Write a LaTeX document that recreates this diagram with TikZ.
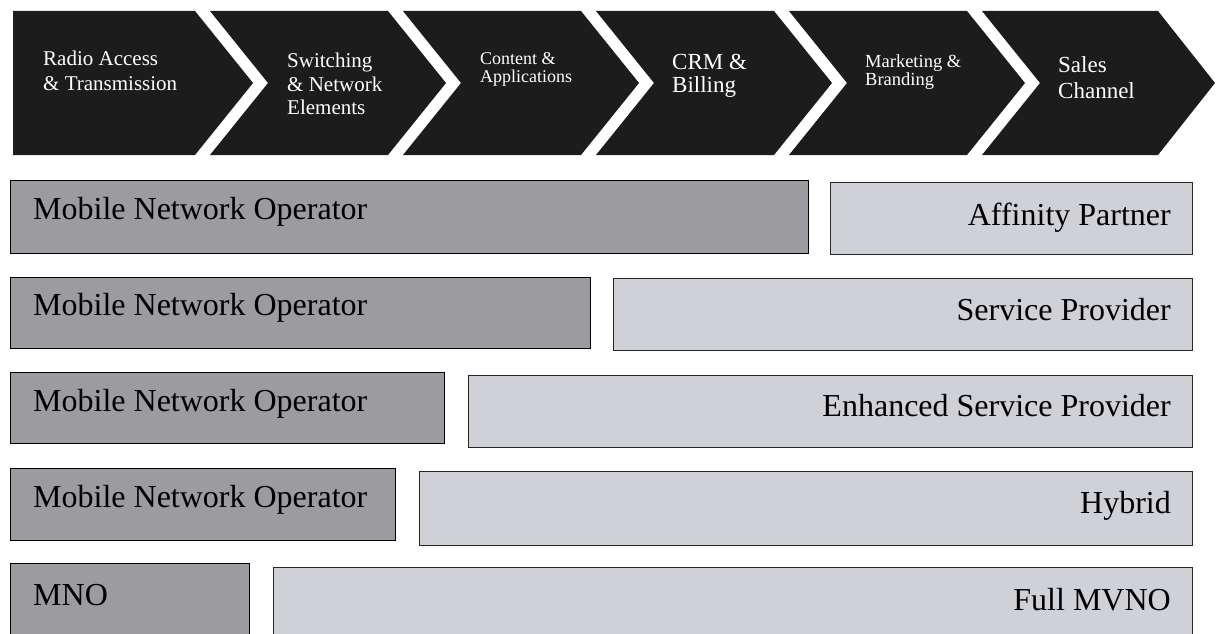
\documentclass[tikz,border=0pt]{standalone}
\usepackage{fontspec}
\setmainfont{Liberation Serif}
\definecolor{chevfill}{RGB}{28,28,28}
\definecolor{opgray}{RGB}{155,155,160}
\definecolor{vngray}{RGB}{208,209,214}

\tikzset{
  stagebox/.style={fill=chevfill},
  stagetext/.style={text=white, align=left, anchor=north west, inner sep=0pt},
  opbar/.style={fill=opgray, draw=black, line width=1pt},
  vnbar/.style={fill=vngray, draw=black!85, line width=1pt},
  optext/.style={anchor=base west, inner sep=0pt, font=\fontsize{32}{34}\selectfont},
  vntext/.style={anchor=base east, inner sep=0pt, font=\fontsize{32}{34}\selectfont}
}

\begin{document}
\begin{tikzpicture}[x=1pt, y=-1pt]
        \clip (0,0) rectangle (1216,634);
        \fill[white] (0,0) rectangle (1216,634);

        % value chain
        \fill[stagebox] (13,11) -- (195,11) -- (253,83) -- (195,155) -- (13,155) -- cycle;
        \fill[stagebox] (210,11) -- (388,11) -- (446,83) -- (388,155) -- (210,155) -- (268,83) -- cycle;
        \fill[stagebox] (403,11) -- (581,11) -- (639,83) -- (581,155) -- (403,155) -- (461,83) -- cycle;
        \fill[stagebox] (596,11) -- (774,11) -- (832,83) -- (774,155) -- (596,155) -- (654,83) -- cycle;
        \fill[stagebox] (789,11) -- (967,11) -- (1025,83) -- (967,155) -- (789,155) -- (847,83) -- cycle;
        \fill[stagebox] (982,11) -- (1158,11) -- (1215,83) -- (1158,155) -- (982,155) -- (1040,83) -- cycle;

        \node[stagetext, font=\fontsize{21}{25}\selectfont] (s1) at (43,51) {Radio Access\\\& Transmission};
        \node[stagetext, font=\fontsize{21}{23.5}\selectfont] (s2) at (287,53) {Switching\\\& Network\\Elements};
        \node[stagetext, font=\fontsize{18}{18}\selectfont] (s3) at (480,52) {Content \&\\Applications};
        \node[stagetext, font=\fontsize{23}{23}\selectfont] (s4) at (672,54.5) {CRM \&\\Billing};
        \node[stagetext, font=\fontsize{18.5}{18}\selectfont] (s5) at (865,54) {Marketing \&\\Branding};
        \node[stagetext, font=\fontsize{23}{26}\selectfont] (s6) at (1058,56) {Sales\\Channel};

        % operator models
        \draw[opbar] (10,180) rectangle (808,253);
        \draw[vnbar] (830,182) rectangle (1192,254);
        \node[optext] (op1) at (33,219) {Mobile Network Operator};
        \node[vntext] (vn1) at (1171,225) {Affinity Partner};

        \draw[opbar] (10,277) rectangle (590,348);
        \draw[vnbar] (613,278) rectangle (1192,350);
        \node[optext] (op2) at (33,315) {Mobile Network Operator};
        \node[vntext] (vn2) at (1171,320) {Service Provider};

        \draw[opbar] (10,372) rectangle (444,443);
        \draw[vnbar] (468,375) rectangle (1192,447);
        \node[optext] (op3) at (33,411) {Mobile Network Operator};
        \node[vntext] (vn3) at (1171,416) {Enhanced Service Provider};

        \draw[opbar] (10,468) rectangle (395,540);
        \draw[vnbar] (419,471) rectangle (1192,545);
        \node[optext] (op4) at (33,507) {Mobile Network Operator};
        \node[vntext] (vn4) at (1171,513) {Hybrid};

        \draw[opbar] (10,563) rectangle (249,645);
        \draw[vnbar] (273,567) rectangle (1192,645);
        \node[optext] (op5) at (33,605) {MNO};
        \node[vntext] (vn5) at (1171,610) {Full MVNO};
\end{tikzpicture}
\end{document}
